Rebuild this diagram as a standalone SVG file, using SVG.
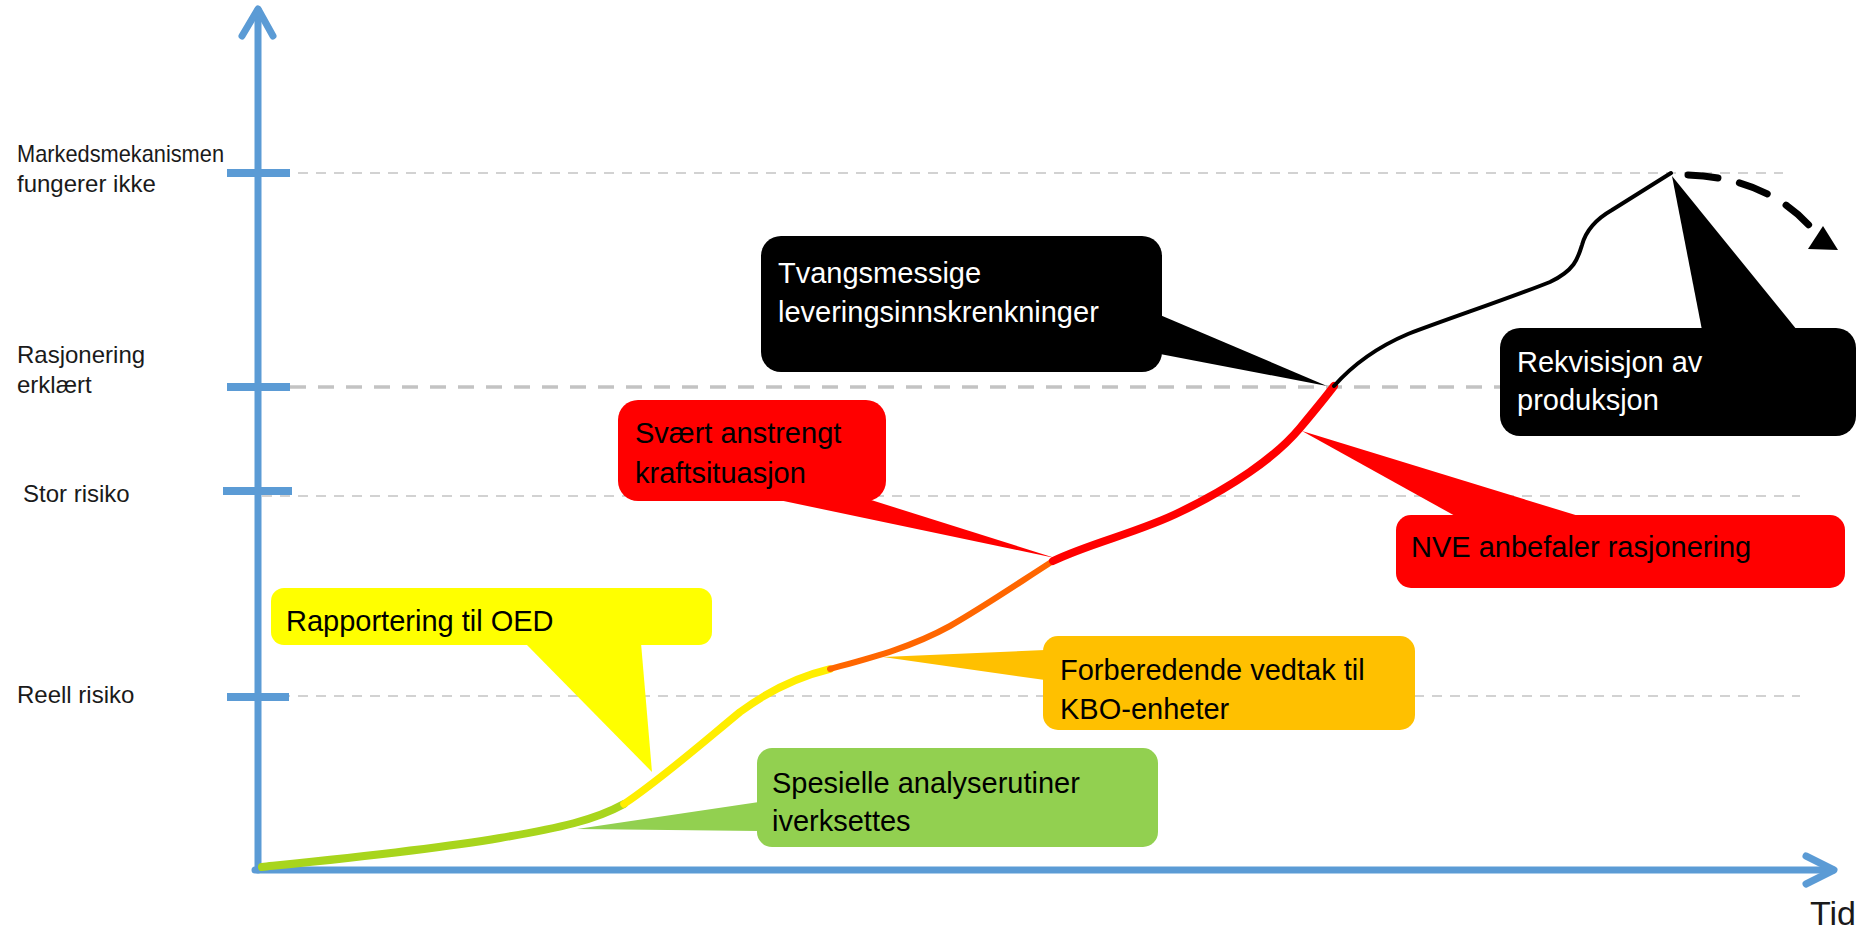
<svg xmlns="http://www.w3.org/2000/svg" width="1865" height="930" viewBox="0 0 1865 930">
<style>
.lbl{font-family:"Liberation Sans",Arial,sans-serif;font-size:24px;fill:#1a1a1a}
.ct{font-family:"Liberation Sans",Arial,sans-serif;font-size:29px;fill:#000}
.cw{font-family:"Liberation Sans",Arial,sans-serif;font-size:29px;fill:#fff}
.grid{stroke:#c3c3c3;stroke-width:1.6;stroke-dasharray:10 8;fill:none}
.gridb{stroke:#c3c3c3;stroke-width:3.5;stroke-dasharray:16 12;fill:none}
.axis{stroke:#5b9bd5;stroke-width:7;fill:none;stroke-linecap:round;stroke-linejoin:round}
.tick{stroke:#5b9bd5;stroke-width:8}
.crv{fill:none;stroke-linecap:round;stroke-linejoin:round}
</style>
<rect width="1865" height="930" fill="#fff"/>
<g id="gridlines">
<line class="grid" x1="262" y1="173" x2="1783" y2="173"/>
<line class="gridb" x1="262" y1="387" x2="1800" y2="387"/>
<line class="grid" x1="262" y1="496" x2="1800" y2="496"/>
<line class="grid" x1="262" y1="696" x2="1800" y2="696"/>
</g>
<g id="axes">
<path class="axis" d="M258,870 L258,10"/>
<path class="axis" d="M242,36 L258,9 L273,36"/>
<path class="axis" d="M255,870 L1833,870"/>
<path class="axis" d="M1806,856 L1834,870 L1806,884"/>
<line class="tick" x1="227" y1="173" x2="290" y2="173"/>
<line class="tick" x1="227" y1="387" x2="290" y2="387"/>
<line class="tick" x1="223" y1="491" x2="292" y2="491"/>
<line class="tick" x1="227" y1="697" x2="289" y2="697"/>
<text class="lbl" x="17" y="162" textLength="207" lengthAdjust="spacingAndGlyphs">Markedsmekanismen</text>
<text class="lbl" x="17" y="192">fungerer ikke</text>
<text class="lbl" x="17" y="363">Rasjonering</text>
<text class="lbl" x="17" y="393">erklært</text>
<text class="lbl" x="23" y="502">Stor risiko</text>
<text class="lbl" x="17" y="703">Reell risiko</text>
<text class="lbl" x="1810" y="925" style="font-size:34px">Tid</text>
</g>
<g id="callout-rapportering">
<rect x="271" y="588" width="441" height="57" rx="13" fill="#ffff00"/>
<polygon points="525,643 641,643 652,772" fill="#ffff00"/>
<text class="ct" x="286" y="631">Rapportering til OED</text>
</g>
<g id="callout-spesielle">
<rect x="757" y="748" width="401" height="99" rx="15" fill="#92d050"/>
<polygon points="759,802 759,831 577,829" fill="#92d050"/>
<text class="ct" x="772" y="793">Spesielle analyserutiner</text>
<text class="ct" x="772" y="831">iverksettes</text>
</g>
<g id="callout-forberedende">
<rect x="1043" y="636" width="372" height="94" rx="15" fill="#ffc000"/>
<polygon points="1045,650 1045,680 883,657" fill="#ffc000"/>
<text class="ct" x="1060" y="680">Forberedende vedtak til</text>
<text class="ct" x="1060" y="719">KBO-enheter</text>
</g>
<g id="callout-svaert">
<rect x="618" y="400" width="268" height="101" rx="20" fill="#ff0000"/>
<polygon points="774,499 868,499 1055,558" fill="#ff0000"/>
<text class="ct" x="635" y="443">Svært anstrengt</text>
<text class="ct" x="635" y="483">kraftsituasjon</text>
</g>
<g id="callout-nve">
<rect x="1396" y="515" width="449" height="73" rx="15" fill="#ff0000"/>
<polygon points="1457,517 1582,517 1302,431" fill="#ff0000"/>
<text class="ct" x="1411" y="557">NVE anbefaler rasjonering</text>
</g>
<g id="callout-tvangsmessige">
<rect x="761" y="236" width="401" height="136" rx="20" fill="#000"/>
<polygon points="1160,315 1160,354 1327,386" fill="#000"/>
<text class="cw" x="778" y="283">Tvangsmessige</text>
<text class="cw" x="778" y="322">leveringsinnskrenkninger</text>
</g>
<g id="callout-rekvisisjon">
<rect x="1500" y="328" width="356" height="108" rx="20" fill="#000"/>
<polygon points="1702,330 1797,330 1672,176" fill="#000"/>
<text class="cw" x="1517" y="372">Rekvisisjon av</text>
<text class="cw" x="1517" y="410">produksjon</text>
</g>
<g id="connectors">
<path class="crv" stroke="#a8d51c" stroke-width="8" d="M262,867 C 330,860 430,850 500,838 C 560,828 595,820 624,804"/>
<path class="crv" stroke="#ffee00" stroke-width="7.5" d="M624,804 C 660,780 700,745 740,712 C 775,686 805,675 830,669"/>
<path class="crv" stroke="#ff6600" stroke-width="6" d="M830,669 C 870,658 910,648 950,626 C 985,606 1020,582 1053,561"/>
<path class="crv" stroke="#ff0000" stroke-width="8" d="M1053,561 C 1090,543 1140,532 1180,512 C 1230,488 1275,458 1300,428 C 1315,410 1325,398 1334,386"/>
<path class="crv" stroke="#000" stroke-width="4" d="M1334,386 C 1350,368 1375,348 1408,334 C 1450,318 1510,298 1550,282 C 1575,270 1578,258 1582,245 C 1586,230 1598,218 1612,210 L 1671,173"/>
<path class="crv" stroke="#000" stroke-width="7" stroke-linecap="butt" stroke-dasharray="30 22" d="M1688,175 Q 1770,178 1815,232"/>
<polygon points="1808,249 1838,250 1823,226" fill="#000"/>
</g>
</svg>
